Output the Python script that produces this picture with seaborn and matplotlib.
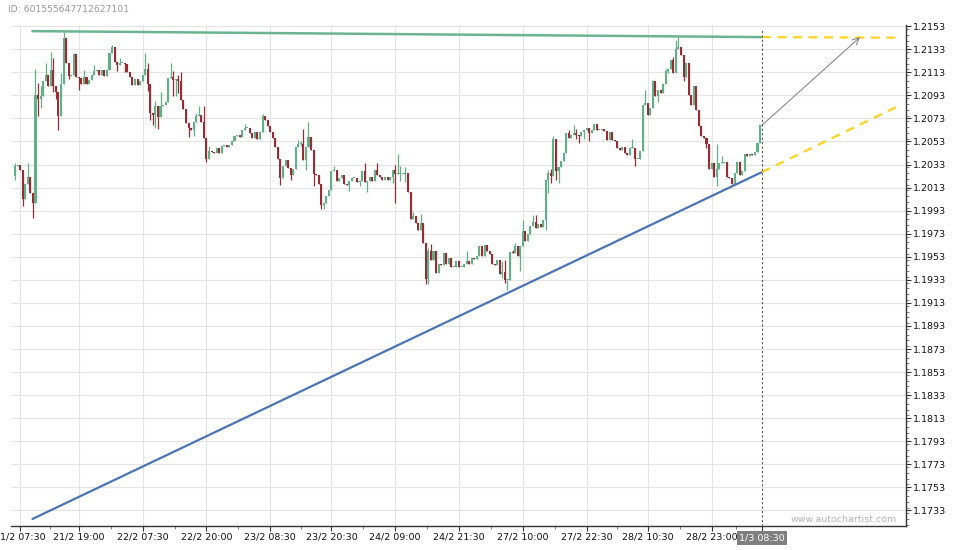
import numpy as np
import pandas as pd
import matplotlib
matplotlib.use("Agg")
import matplotlib.pyplot as plt
import seaborn as sns

# ==========================================
# Data (30 min candles, index 0 = 21/2 07:30)
# ==========================================
first_open = 1.2023
closes = [
    # -2 .. 7
    1.2032, 1.2033, 1.2028, 1.2003, 1.2016, 1.2022, 1.2008, 1.2000, 1.2093, 1.2090,
    # 8 .. 17
    1.2092, 1.2105, 1.2111, 1.2101, 1.2115, 1.2101, 1.2096, 1.2075, 1.2103, 1.2143,
    # 18 .. 27
    1.2121, 1.2110, 1.2111, 1.2129, 1.2109, 1.2108, 1.2103, 1.2109, 1.2103, 1.2106,
    # 28 .. 37
    1.2111, 1.2114, 1.2115, 1.2111, 1.2115, 1.2110, 1.2115, 1.2130, 1.2135, 1.2122,
    # 38 .. 47
    1.2119, 1.2121, 1.2121, 1.2120, 1.2113, 1.2109, 1.2102, 1.2107, 1.2102, 1.2105,
    # 48 .. 57
    1.2111, 1.2116, 1.2103, 1.2078, 1.2076, 1.2084, 1.2074, 1.2084, 1.2085, 1.2087,
    # 58 .. 67
    1.2108, 1.2109, 1.2106, 1.2107, 1.2105, 1.2089, 1.2081, 1.2069, 1.2065, 1.2063,
    # 68 .. 77
    1.2070, 1.2075, 1.2076, 1.2070, 1.2056, 1.2038, 1.2045, 1.2044, 1.2043, 1.2047,
    # 78 .. 87
    1.2043, 1.2049, 1.2050, 1.2048, 1.2050, 1.2053, 1.2058, 1.2059, 1.2057, 1.2063,
    # 88 .. 97
    1.2065, 1.2065, 1.2060, 1.2056, 1.2061, 1.2055, 1.2061, 1.2075, 1.2072, 1.2066,
    # 98 .. 107
    1.2061, 1.2056, 1.2048, 1.2038, 1.2021, 1.2032, 1.2037, 1.2030, 1.2024, 1.2029,
    # 108 .. 117
    1.2048, 1.2051, 1.2051, 1.2037, 1.2048, 1.2057, 1.2046, 1.2025, 1.2024, 1.2016,
    # 118 .. 127
    1.1998, 1.2000, 1.2006, 1.2011, 1.2027, 1.2028, 1.2019, 1.2021, 1.2024, 1.2016,
    # 128 .. 137
    1.2015, 1.2019, 1.2021, 1.2021, 1.2018, 1.2019, 1.2027, 1.2018, 1.2019, 1.2022,
    # 138 .. 147
    1.2019, 1.2028, 1.2024, 1.2022, 1.2020, 1.2022, 1.2020, 1.2022, 1.2028, 1.2025,
    # 148 .. 157
    1.2025, 1.2025, 1.2025, 1.2026, 1.2009, 1.1986, 1.1988, 1.1982, 1.1976, 1.1982,
    # 158 .. 167
    1.1965, 1.1934, 1.1958, 1.1950, 1.1958, 1.1939, 1.1947, 1.1946, 1.1956, 1.1947,
    # 168 .. 177
    1.1952, 1.1944, 1.1944, 1.1949, 1.1944, 1.1944, 1.1947, 1.1949, 1.1947, 1.1952,
    # 178 .. 187
    1.1951, 1.1954, 1.1962, 1.1954, 1.1963, 1.1958, 1.1955, 1.1947, 1.1946, 1.1950,
    # 188 .. 197
    1.1938, 1.1940, 1.1933, 1.1933, 1.1957, 1.1956, 1.1962, 1.1954, 1.1962, 1.1975,
    # 198 .. 207
    1.1967, 1.1973, 1.1980, 1.1983, 1.1978, 1.1981, 1.1979, 1.1985, 1.2020, 1.2026,
    # 208 .. 217
    1.2023, 1.2055, 1.2027, 1.2031, 1.2036, 1.2043, 1.2060, 1.2056, 1.2059, 1.2060,
    # 218 .. 227
    1.2059, 1.2058, 1.2061, 1.2063, 1.2065, 1.2060, 1.2063, 1.2068, 1.2063, 1.2063,
    # 228 .. 237
    1.2064, 1.2062, 1.2054, 1.2061, 1.2054, 1.2053, 1.2047, 1.2046, 1.2048, 1.2043,
    # 238 .. 247
    1.2041, 1.2047, 1.2047, 1.2038, 1.2038, 1.2045, 1.2085, 1.2086, 1.2076, 1.2082,
    # 248 .. 257
    1.2105, 1.2092, 1.2098, 1.2095, 1.2103, 1.2114, 1.2116, 1.2124, 1.2112, 1.2133,
    # 258 .. 267
    1.2135, 1.2128, 1.2109, 1.2121, 1.2093, 1.2085, 1.2101, 1.2080, 1.2066, 1.2058,
    # 268 .. 277
    1.2056, 1.2051, 1.2029, 1.2034, 1.2022, 1.2029, 1.2034, 1.2034, 1.2035, 1.2022,
    # 278 .. 287
    1.2021, 1.2016, 1.2026, 1.2035, 1.2024, 1.2027, 1.2042, 1.2040, 1.2042, 1.2041,
    # 288 .. 290
    1.2044, 1.2052, 1.2067,
]

# wick extremes (only where visible)
highs = {-2: 1.2034, 3: 1.2034, 6: 1.2116, 7: 1.2104, 8: 1.2101, 10: 1.2121, 12: 1.2131,
         13: 1.2125, 16: 1.2112, 17: 1.2148, 21: 1.2130, 25: 1.2115, 29: 1.2119, 36: 1.2137,
         39: 1.2125, 49: 1.2130, 50: 1.2121, 53: 1.2088, 55: 1.2096, 59: 1.2121, 60: 1.2114,
         62: 1.2111, 63: 1.2113, 69: 1.2078, 70: 1.2084, 72: 1.2084, 74: 1.2049, 88: 1.2068,
         95: 1.2077, 109: 1.2054, 110: 1.2053, 111: 1.2064, 113: 1.2070, 123: 1.2032,
         135: 1.2034, 140: 1.2034, 147: 1.2033, 148: 1.2042, 149: 1.2032, 151: 1.2031,
         154: 1.1992, 157: 1.1990, 160: 1.1961, 161: 1.1964, 175: 1.1958, 189: 1.1949,
         190: 1.1950, 193: 1.1959, 194: 1.1965, 197: 1.1985, 201: 1.1989, 202: 1.1989,
         207: 1.2028, 208: 1.2029, 209: 1.2058, 215: 1.2063, 217: 1.2067, 218: 1.2064,
         240: 1.2055, 245: 1.2098, 248: 1.2106, 253: 1.2116, 256: 1.2126, 257: 1.2141,
         258: 1.2144, 273: 1.2051, 275: 1.2040}
lows = {-2: 1.2020, 1: 1.1997, 5: 1.1987, 7: 1.2075, 8: 1.2082, 13: 1.2096, 14: 1.2090,
        15: 1.2063, 19: 1.2107, 23: 1.2098, 38: 1.2114, 41: 1.2113, 50: 1.2097, 51: 1.2072,
        52: 1.2067, 53: 1.2065, 54: 1.2064, 60: 1.2092, 61: 1.2092, 62: 1.2095, 66: 1.2057,
        68: 1.2058, 73: 1.2035, 102: 1.2015, 106: 1.2020, 110: 1.2049, 112: 1.2028,
        115: 1.2014, 118: 1.1994, 119: 1.1994, 129: 1.2010, 133: 1.2014, 136: 1.2009,
        146: 1.2017, 147: 1.2000, 149: 1.2019, 151: 1.2018, 159: 1.1929, 160: 1.1929,
        189: 1.1935, 190: 1.1930, 191: 1.1924, 196: 1.1941, 206: 1.1976, 207: 1.2008,
        208: 1.2017, 210: 1.2020, 211: 1.2017, 218: 1.2055, 219: 1.2052, 221: 1.2055,
        223: 1.2053, 241: 1.2032, 250: 1.2087, 254: 1.2112, 260: 1.2105, 269: 1.2047,
        273: 1.2014}

time_idx = [0, 23, 48, 73, 98, 122, 147, 172, 197, 222, 246, 271]
time_labels = ["21/2 07:30", "21/2 19:00", "22/2 07:30", "22/2 20:00", "23/2 08:30",
               "23/2 20:30", "24/2 09:00", "24/2 21:30", "27/2 10:00", "27/2 22:30",
               "28/2 10:30", "28/2 23:00"]
last_idx = 290
last_label = "1/3 08:30"

# pattern lines (candle index, price)
resist_x, resist_y = [4.8, 290.7], [1.21487, 1.21435]
support_x, support_y = [4.8, 290.7], [1.17256, 1.20264]
resist_proj_x, resist_proj_y = [290.7, 344.9], [1.21435, 1.21430]
support_proj_x, support_proj_y = [290.7, 344.9], [1.20264, 1.20845]
arrow_from, arrow_to = (290.7, 1.2067), (329.2, 1.21435)

# ==========================================
# Build candles
# ==========================================
df = pd.DataFrame({"close": closes})
df["idx"] = np.arange(len(df)) - 2
df["open"] = [first_open] + closes[:-1]
df["high"] = df.apply(lambda r: highs.get(r.idx, max(r.open, r.close)), axis=1)
df["low"] = df.apply(lambda r: lows.get(r.idx, min(r.open, r.close)), axis=1)
df["up"] = df["close"] >= df["open"]

GREEN = "#5fb087"
RED = "#982c32"

sns.set_theme(style="white")
plt.rcParams["font.family"] = ["DejaVu Sans"]

fig = plt.figure(figsize=(9.6, 5.5), dpi=100)
ax = fig.add_axes([11 / 960, 24 / 550, 895 / 960, 501 / 550])

ax.set_xlim(-3.6, 347.2)
ax.set_ylim(1.17195, 1.2154)

# grid
yt = np.round(np.arange(1.1733, 1.21531, 0.002), 4)
for v in yt:
    ax.axhline(v, color="#e4e4e4", lw=0.8, zorder=0)
for v in time_idx:
    ax.axvline(v, color="#e4e4e4", lw=0.8, zorder=0)

# candles
colors = np.where(df["up"], GREEN, RED)
ax.vlines(df["idx"], df["low"], df["high"], colors=colors, lw=0.9, zorder=2)
body = (df["close"] - df["open"]).abs().clip(lower=0.00008)
ax.bar(df["idx"], body, bottom=df[["open", "close"]].min(axis=1), width=0.8,
       color=colors, linewidth=0, zorder=3)

# pattern lines
sns.lineplot(x=resist_x, y=resist_y, ax=ax, color="#6cb48f", lw=1.8, zorder=4)
sns.lineplot(x=support_x, y=support_y, ax=ax, color="#4a74b4", lw=1.6, zorder=4)
for px, py in [(resist_proj_x, resist_proj_y), (support_proj_x, support_proj_y)]:
    ax.plot(px, py, color="#ffd21f", lw=1.6, dashes=(4, 3), zorder=4)
ax.annotate("", xy=arrow_to, xytext=arrow_from,
            arrowprops=dict(arrowstyle="->", color="#8a8a8a", lw=0.8,
                            shrinkA=0, shrinkB=0), zorder=5)

# current bar marker
ax.plot([last_idx + 0.7, last_idx + 0.7], [1.17195, 1.21495], color="#555555",
        lw=0.8, dashes=(2, 2), zorder=5)

# axes styling
for s in ["top", "left"]:
    ax.spines[s].set_visible(False)
for s in ["bottom", "right"]:
    ax.spines[s].set_color("#333333")
    ax.spines[s].set_linewidth(1.0)

ax.yaxis.tick_right()
ax.set_yticks(yt)
ax.set_yticklabels([f"{v:.4f}" for v in yt])
ax.set_yticks(np.arange(1.17205, 1.2154, 0.0005), minor=True)
ax.set_xticks(time_idx + [last_idx + 0.7])
ax.set_xticklabels(time_labels + [""])
mids = [(a + b) / 2 for a, b in zip(time_idx, time_idx[1:] + [last_idx])]
ax.set_xticks(mids, minor=True)
ax.tick_params(axis="both", which="major", length=3.5, width=0.8, color="#333333",
               labelsize=6.8, labelcolor="#111111", pad=1.5, direction="out")
ax.tick_params(axis="both", which="minor", length=2, width=0.6, color="#666666",
               direction="out")
ax.tick_params(axis="y", which="both", left=False, right=True)
ax.tick_params(axis="x", which="both", bottom=True, top=False)
ax.set_xlabel("")
ax.set_ylabel("")

ax.annotate(last_label, xy=(last_idx + 0.7, 0), xycoords=("data", "axes fraction"),
            xytext=(0, -5.5), textcoords="offset points", ha="center", va="top",
            fontsize=6.8, color="white", zorder=10, annotation_clip=False,
            bbox=dict(boxstyle="square,pad=0.25", fc="#7f7f7f", ec="none"))

ax.text(0.99, 0.012, "www.autochartist.com", transform=ax.transAxes, ha="right",
        va="center", fontsize=6.8, color="#b5b5b5")
fig.text(8 / 960, 1 - 10 / 550, "ID: 601555647712627101", ha="left", va="center",
         fontsize=6.7, color="#999999")

fig.savefig("out.png", dpi=100)
print("saved out.png")
